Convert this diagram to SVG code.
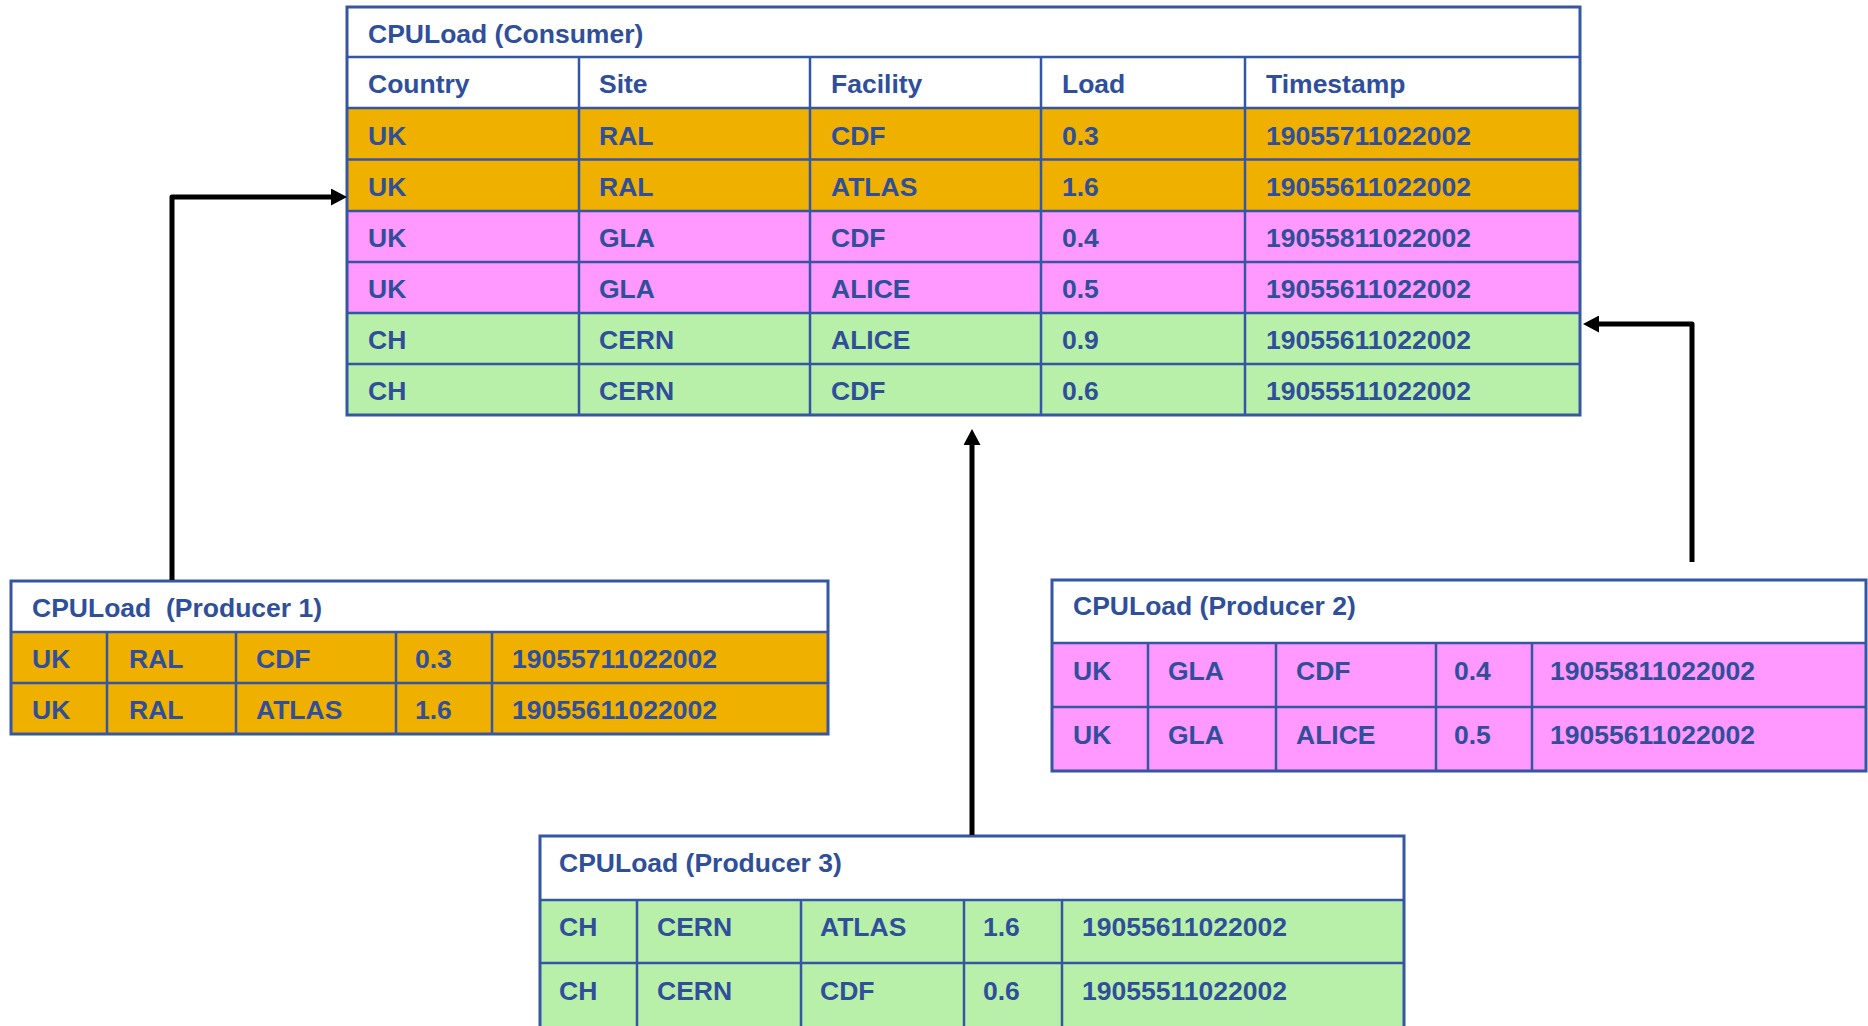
<svg xmlns="http://www.w3.org/2000/svg" width="1868" height="1026" viewBox="0 0 1868 1026">
<style>
  .t { font-family: "Liberation Sans", Arial, sans-serif; font-weight: bold; font-size: 26.5px; fill: #2F4F9B; white-space: pre; }
  .ln { stroke: #3556A3; stroke-width: 2.5; fill: none; }
  .frame { stroke: #3556A3; stroke-width: 3; fill: none; }
  .org { fill: #F0B000; }
  .pnk { fill: #FF99FF; }
  .grn { fill: #B9F0A9; }
  .wht { fill: #FFFFFF; }
  .conn { stroke: #000; stroke-width: 5; fill: none; stroke-linejoin: round; }
</style>
<defs>
  <marker id="ah" markerUnits="userSpaceOnUse" viewBox="0 0 16 17" markerWidth="16" markerHeight="17" refX="4" refY="8.5" orient="auto">
    <path d="M0,0 L16,8.5 L0,17 Z" fill="#000"/>
  </marker>
</defs>
<rect width="1868" height="1026" fill="#FFFFFF"/>

<g id="consumer">
  <rect class="wht" x="347" y="7" width="1233" height="101"/>
  <rect class="org" x="347" y="108" width="1233" height="103"/>
  <rect class="pnk" x="347" y="211" width="1233" height="102"/>
  <rect class="grn" x="347" y="313" width="1233" height="102"/>
  <path class="ln" d="M347,57 H1580 M347,108 H1580 M347,159.5 H1580 M347,211 H1580 M347,262 H1580 M347,313 H1580 M347,364 H1580 M579,57 V415 M810,57 V415 M1041,57 V415 M1245,57 V415"/>
  <rect class="frame" x="347" y="7" width="1233" height="408"/>
  <text class="t" x="368" y="43">CPULoad (Consumer)</text>
  <text class="t" x="368" y="93">Country</text>
  <text class="t" x="599" y="93">Site</text>
  <text class="t" x="831" y="93">Facility</text>
  <text class="t" x="1062" y="93">Load</text>
  <text class="t" x="1266" y="93">Timestamp</text>
  <text class="t" x="368" y="145">UK</text><text class="t" x="599" y="145">RAL</text><text class="t" x="831" y="145">CDF</text><text class="t" x="1062" y="145">0.3</text><text class="t" x="1266" y="145">19055711022002</text>
  <text class="t" x="368" y="196">UK</text><text class="t" x="599" y="196">RAL</text><text class="t" x="831" y="196">ATLAS</text><text class="t" x="1062" y="196">1.6</text><text class="t" x="1266" y="196">19055611022002</text>
  <text class="t" x="368" y="247">UK</text><text class="t" x="599" y="247">GLA</text><text class="t" x="831" y="247">CDF</text><text class="t" x="1062" y="247">0.4</text><text class="t" x="1266" y="247">19055811022002</text>
  <text class="t" x="368" y="298">UK</text><text class="t" x="599" y="298">GLA</text><text class="t" x="831" y="298">ALICE</text><text class="t" x="1062" y="298">0.5</text><text class="t" x="1266" y="298">19055611022002</text>
  <text class="t" x="368" y="349">CH</text><text class="t" x="599" y="349">CERN</text><text class="t" x="831" y="349">ALICE</text><text class="t" x="1062" y="349">0.9</text><text class="t" x="1266" y="349">19055611022002</text>
  <text class="t" x="368" y="400">CH</text><text class="t" x="599" y="400">CERN</text><text class="t" x="831" y="400">CDF</text><text class="t" x="1062" y="400">0.6</text><text class="t" x="1266" y="400">19055511022002</text>
</g>

<g id="producer1">
  <rect class="wht" x="11" y="581" width="817" height="51"/>
  <rect class="org" x="11" y="632" width="817" height="102"/>
  <path class="ln" d="M11,632 H828 M11,683 H828 M107,632 V734 M236,632 V734 M396,632 V734 M492,632 V734"/>
  <rect class="frame" x="11" y="581" width="817" height="153"/>
  <text class="t" x="32" y="617">CPULoad  (Producer 1)</text>
  <text class="t" x="32" y="668">UK</text><text class="t" x="129" y="668">RAL</text><text class="t" x="256" y="668">CDF</text><text class="t" x="415" y="668">0.3</text><text class="t" x="512" y="668">19055711022002</text>
  <text class="t" x="32" y="719">UK</text><text class="t" x="129" y="719">RAL</text><text class="t" x="256" y="719">ATLAS</text><text class="t" x="415" y="719">1.6</text><text class="t" x="512" y="719">19055611022002</text>
</g>

<g id="producer2">
  <rect class="wht" x="1052" y="580" width="814" height="63"/>
  <rect class="pnk" x="1052" y="643" width="814" height="128"/>
  <path class="ln" d="M1052,643 H1866 M1052,707 H1866 M1148,643 V771 M1276,643 V771 M1436,643 V771 M1532,643 V771"/>
  <rect class="frame" x="1052" y="580" width="814" height="191"/>
  <text class="t" x="1073" y="615">CPULoad (Producer 2)</text>
  <text class="t" x="1073" y="680">UK</text><text class="t" x="1168" y="680">GLA</text><text class="t" x="1296" y="680">CDF</text><text class="t" x="1454" y="680">0.4</text><text class="t" x="1550" y="680">19055811022002</text>
  <text class="t" x="1073" y="744">UK</text><text class="t" x="1168" y="744">GLA</text><text class="t" x="1296" y="744">ALICE</text><text class="t" x="1454" y="744">0.5</text><text class="t" x="1550" y="744">19055611022002</text>
</g>

<g id="producer3">
  <rect class="wht" x="540" y="836" width="864" height="64"/>
  <rect class="grn" x="540" y="900" width="864" height="130"/>
  <path class="ln" d="M540,900 H1404 M540,963 H1404 M637,900 V1030 M801,900 V1030 M964,900 V1030 M1062,900 V1030"/>
  <rect class="frame" x="540" y="836" width="864" height="194"/>
  <text class="t" x="559" y="872">CPULoad (Producer 3)</text>
  <text class="t" x="559" y="936">CH</text><text class="t" x="657" y="936">CERN</text><text class="t" x="820" y="936">ATLAS</text><text class="t" x="983" y="936">1.6</text><text class="t" x="1082" y="936">19055611022002</text>
  <text class="t" x="559" y="1000">CH</text><text class="t" x="657" y="1000">CERN</text><text class="t" x="820" y="1000">CDF</text><text class="t" x="983" y="1000">0.6</text><text class="t" x="1082" y="1000">19055511022002</text>
</g>

<g id="connectors">
  <path class="conn" d="M172,580 V197 H335" marker-end="url(#ah)"/>
  <path class="conn" d="M1692,562 V324 H1595" marker-end="url(#ah)"/>
  <path class="conn" d="M972,835 V441" marker-end="url(#ah)"/>
</g>
</svg>
